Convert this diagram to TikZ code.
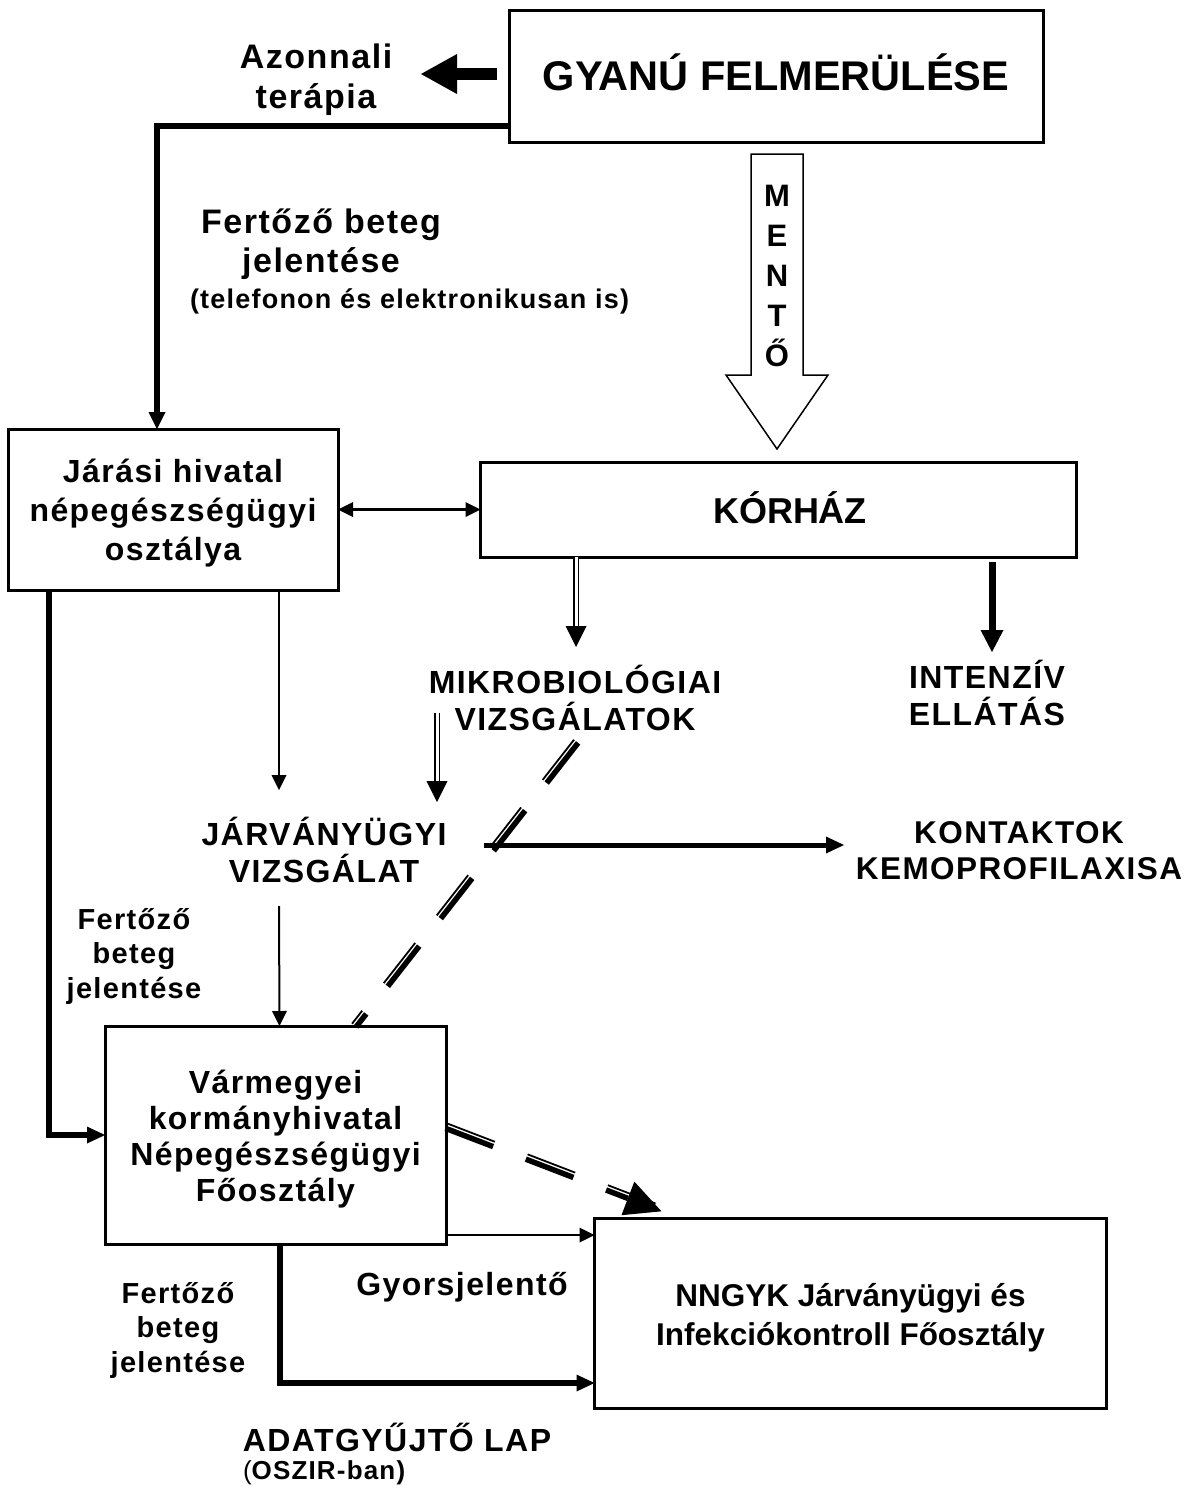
\documentclass[tikz,border=0pt]{standalone}
\usepackage{fontspec}
\setmainfont{Liberation Sans}[LetterSpace=4.5]
\newfontfamily\tightfont{Liberation Sans}
\usetikzlibrary{arrows.meta,calc}
\begin{document}
\begin{tikzpicture}[x=1pt,y=-1pt,
  every node/.style={inner sep=0pt, outer sep=0pt},
  box/.style={draw, line width=3pt, inner sep=0pt},
  lab/.style={align=center, inner sep=0pt, font=\bfseries\fontsize{32}{37}\selectfont},
  thinarr/.style={line width=2pt, -{Triangle[length=15pt,width=15pt,line width=0pt]}},
  thickarr/.style={line width=6pt, -{Triangle[length=18pt,width=17pt,line width=0pt]}},
  dblarr/.style={double, double distance=3pt, line width=1.6pt, -{Triangle[length=21pt,width=21pt,line width=0pt]}},
  dashthin/.style={line width=1.8pt, dash pattern=on 51pt off 35pt},
  dashthick/.style={line width=5.5pt, dash pattern=on 51pt off 35pt}
]
\useasboundingbox (0,0) rectangle (1186,1486);

% boxes
\node[box, minimum width=534pt, minimum height=132pt, text height=29.7pt, text depth=0pt,
  font=\tightfont\bfseries\fontsize{41.5}{48}\selectfont] (gyanu) at (776,76) {GYANÚ FELMERÜLÉSE};
\node[box, minimum width=330pt, minimum height=161pt, align=center,
  font=\bfseries\fontsize{32}{39}\selectfont] (jarasi) at (173,509.5) {\rule{0pt}{30pt}Járási hivatal\\népegészségügyi\\osztálya};
\node[box, minimum width=596pt, minimum height=95pt, inner sep=0pt] (korhaz) at (778.5,509.5) {};
\node[text height=26pt, text depth=0pt, font=\tightfont\bfseries\fontsize{36}{40}\selectfont] (korhazT) at (790,510) {KÓRHÁZ};
\node[box, minimum width=341pt, minimum height=218pt, align=center,
  font=\bfseries\fontsize{32}{36}\selectfont] (varm) at (275.5,1135) {\rule{0pt}{31pt}Vármegyei\\kormányhivatal\\Népegészségügyi\\Főosztály};
\node[box, minimum width=512pt, minimum height=190pt, align=center,
  font=\tightfont\bfseries\fontsize{31.5}{39}\selectfont] (nngyk) at (850.5,1313) {\rule{0pt}{32pt}NNGYK Járványügyi és\\Infekciókontroll Főosztály};

% free labels (anchor=base is the baseline of the last line)
\node[lab, anchor=base, font=\bfseries\fontsize{34}{40}\selectfont] (azon) at (316,108) {Azonnali\\terápia};
\node[lab, anchor=base, font=\bfseries\fontsize{34}{39}\selectfont] (fert1) at (321,272) {Fertőző beteg\\jelentése};
\node[anchor=base west, font=\bfseries\fontsize{27}{30}\selectfont] (telef) at (190,308) {(telefonon és elektronikusan is)};
\node[lab, anchor=base] (mikro) at (575,730) {MIKROBIOLÓGIAI\\VIZSGÁLATOK};
\node[lab, anchor=base, font=\bfseries\fontsize{32}{37}\selectfont] (intenz) at (987,725) {INTENZÍV\\ELLÁTÁS};
\node[lab, anchor=base] (jarv) at (324,882) {JÁRVÁNYÜGYI\\VIZSGÁLAT};
\node[lab, anchor=base, font=\bfseries\fontsize{31.5}{36}\selectfont] (kont) at (1019,879) {KONTAKTOK\\KEMOPROFILAXISA};
\node[lab, anchor=base, font=\bfseries\fontsize{29}{34.5}\selectfont] (fert2) at (134,998) {Fertőző\\beteg\\jelentése};
\node[lab, anchor=base] (gyors) at (462,1295) {Gyorsjelentő};
\node[lab, anchor=base, font=\bfseries\fontsize{29}{34.5}\selectfont] (fert3) at (178,1372) {Fertőző\\beteg\\jelentése};
\node[lab, anchor=base] (adat) at (397,1451) {ADATGYŰJTŐ LAP};
\node[anchor=base west, font=\bfseries\fontsize{26}{30}\selectfont] (oszir) at (243,1479) {{\mdseries(}OSZIR-ban)};

% MENTŐ hollow arrow
\draw[line width=1.5pt, fill=white] (751,154) -- (803,154) -- (803,375) -- (828,375) -- (777,449) -- (726,375) -- (751,375) -- cycle;
\node[align=center, anchor=base, font=\tightfont\bfseries\fontsize{31}{40}\selectfont] (mento) at (777,366) {M\\E\\N\\T\\Ő};

% coordinates for free ends
\coordinate (azonTip) at (421,74);
\coordinate (mikroTip) at (576,647);
\coordinate (intTip) at (992,652);
\coordinate (jarvTip) at (279,790);
\coordinate (mikroOut) at (437,713);
\coordinate (jarvTip2) at (437,802);
\coordinate (jarvOut) at (279,906);
\coordinate (jarvRight) at (484,845);
\coordinate (kontTip) at (844,845);
\coordinate (diagTop) at (577,742);
\coordinate (dashTip) at (662,1210);

% connectors
\draw[line width=12pt, -{Triangle[length=36pt,width=40pt,line width=0pt]}] ([xshift=-12pt]gyanu.west |- azonTip) -- (azonTip);
\draw[line width=6pt, -{Triangle[length=17pt,width=17pt,line width=0pt]}] ([yshift=-50pt]gyanu.west) -| ([xshift=-16pt]jarasi.north);
\draw[line width=3pt, {Triangle[length=15pt,width=15pt,line width=0pt]}-{Triangle[length=15pt,width=15pt,line width=0pt]}] (jarasi.east) -- (korhaz.west);
\draw[dblarr] (korhaz.south -| mikroTip) -- (mikroTip);
\draw[line width=7pt, -{Triangle[length=22pt,width=23pt,line width=0pt]}] ([yshift=-5pt]korhaz.south -| intTip) -- (intTip);
\draw[thinarr] (jarasi.south -| jarvTip) -- (jarvTip);
\draw[dblarr] (mikroOut) -- (jarvTip2);
\draw[line width=5pt, -{Triangle[length=18pt,width=17pt,line width=0pt]}] (jarvRight) -- (kontTip);
\draw[thickarr] ([xshift=-124.5pt]jarasi.south) |- (varm.west);
\draw[thinarr] (jarvOut) -- ([xshift=4pt]varm.north);
\draw[thinarr] ([yshift=-100pt]varm.east) -- ([yshift=-100pt]varm.east -| nngyk.west);
\draw[thickarr] ([xshift=4pt]varm.south) |- ([yshift=-70pt]nngyk.west);

% dashed double line microbiology -> county office
\draw[dashthin] ($(diagTop)+(-2.95,-2.3)$) -- ($([xshift=79.5pt]varm.north)+(-2.95,-2.3)$);
\draw[dashthick] ($(diagTop)+(1.1,0.86)$) -- ($([xshift=79.5pt]varm.north)+(1.1,0.86)$);

% dashed double arrow county office -> NNGYK
\draw[dashthin] ($([yshift=8pt]varm.east)+(1.35,-3.5)$) -- ($(dashTip)+(1.35,-3.5)$);
\draw[dashthick, -{Triangle[length=36pt,width=36pt,line width=0pt]}] ($([yshift=8pt]varm.east)+(-0.5,1.3)$) -- ($(dashTip)+(-0.5,1.3)$);
\end{tikzpicture}
\end{document}
